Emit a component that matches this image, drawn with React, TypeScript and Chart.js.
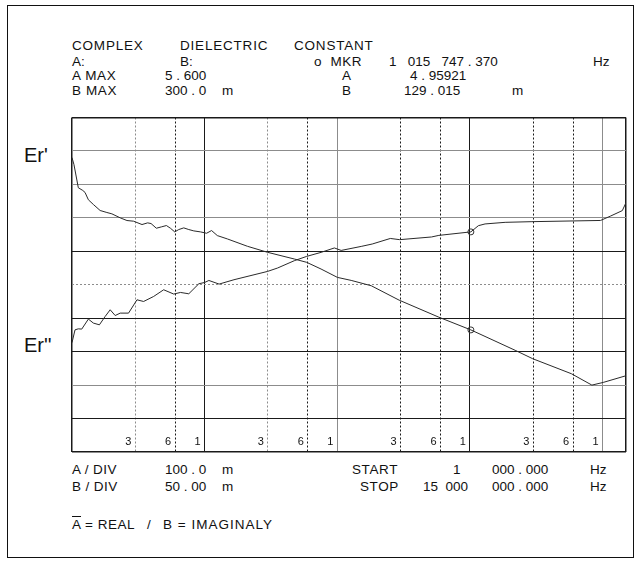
import React, { useEffect, useRef } from "react";
import { Chart, registerables } from "chart.js";
Chart.register(...registerables);

// ---- data ----
const freqA = [1000, 1035, 1116, 1205, 1254, 1329, 1449, 1629, 1831, 1998, 2309, 2595, 2911, 3371, 3715, 3943, 4324, 4718, 5147, 5520, 5950, 6377, 6958, 7593, 8284, 9311, 10337, 11277, 12459, 14831, 21017, 29782, 47340, 58770, 75410, 100200, 127200, 180300, 292200, 582700, 1015747, 2191000, 2967000, 5815000, 8299000, 10100000, 15000000];
const realA = [5.48, 5.459, 5.39, 5.382, 5.376, 5.354, 5.34, 5.322, 5.316, 5.312, 5.3, 5.292, 5.29, 5.28, 5.285, 5.283, 5.269, 5.273, 5.277, 5.269, 5.258, 5.265, 5.27, 5.265, 5.261, 5.258, 5.254, 5.262, 5.247, 5.237, 5.215, 5.197, 5.177, 5.167, 5.147, 5.122, 5.113, 5.097, 5.054, 5.003, 4.965, 4.904, 4.879, 4.834, 4.8, 4.808, 4.828];
const freqB = [1000, 1054, 1116, 1184, 1329, 1449, 1609, 1777, 1940, 2116, 2309, 2668, 3089, 3465, 4125, 4910, 5846, 6570, 7593, 9041, 10000, 10760, 12850, 16640, 29780, 35440, 47340, 58770, 75410, 95060, 106900, 151400, 183400, 251000, 295200, 512900, 582700, 1015747, 1157000, 1299000, 1841000, 2931000, 9641000, 11420000, 14070000, 15000000];
const imagB = [-36.5, -17.4, -15.9, -16.3, -1.3, -7.3, -9.9, 2.5, 12.6, 4.0, 7.6, 7.6, 27.5, 25.0, 32.5, 42.5, 36.1, 38.5, 36.5, 51.5, 53.4, 56.4, 51.0, 57.5, 69.9, 75.0, 85.9, 92.4, 98.4, 105.0, 101.3, 107.3, 110.9, 119.2, 117.4, 121.4, 123.8, 129.015, 138.3, 140.9, 143.3, 144.3, 146.1, 152.5, 160.8, 172.7];
const markerFreq = 1015747.37;
const markerA = 4.965;
const markerB = 129.015;
const freqStart = 1000;
const freqStop = 15000000;
const xGridValues = [1e3, 3e3, 6e3, 1e4, 3e4, 6e4, 1e5, 3e5, 6e5, 1e6, 3e6, 6e6, 1e7, 1.5e7];
const xLabelValues = [3e3, 6e3, 1e4, 3e4, 6e4, 1e5, 3e5, 6e5, 1e6, 3e6, 6e6, 1e7];
const xLabelTexts = ["3", "6", "1", "3", "6", "1", "3", "6", "1", "3", "6", "1"];
const aMax = 5.6;
const aDiv = 0.1;
const bMax = 300;
const bDiv = 50;
const divisions = 10;

const FONT = '"Liberation Sans", Arial, sans-serif';
const DARK = "#1a1a1a";
const GRAY = "#8c8c8c";

// styles of the horizontal lines from top (0) to bottom (10)
const hStyle = ["d", "g", "g", "g", "d", "dot", "d", "d", "g", "d", "d"];
// styles of vertical lines keyed by grid value
const vStyle: Record<number, string> = {
  1e3: "d2", 3e3: "gdash", 6e3: "ddash", 1e4: "d", 3e4: "gdash", 6e4: "ddash", 1e5: "g",
  3e5: "ddash", 6e5: "ddash", 1e6: "d", 3e6: "ddash", 6e6: "ddash", 1e7: "g", 1.5e7: "d2",
};

function T(props: { x: number; y: number; text: string; size?: number; ls?: number }) {
  const size = props.size || 13.5;
  return (
    <div
      style={{
        position: "absolute",
        left: props.x,
        top: props.y - size * 0.49,
        fontSize: size,
        lineHeight: `${size}px`,
        fontFamily: FONT,
        color: "#111",
        whiteSpace: "pre",
        letterSpacing: props.ls !== undefined ? props.ls : 0,
      }}
    >
      {props.text}
    </div>
  );
}

export default function App() {
  const ref = useRef<HTMLCanvasElement | null>(null);
  useEffect(() => {
    if (!ref.current) return;
    const labelPlugin = {
      id: "decadeLabels",
      afterDraw(chart: any) {
        const ctx = chart.ctx;
        const xs = chart.scales.x;
        const area = chart.chartArea;
        ctx.save();
        ctx.font = `11px ${FONT}`;
        ctx.fillStyle = "#111";
        ctx.textAlign = "right";
        ctx.textBaseline = "middle";
        xLabelValues.forEach((v, i) => {
          ctx.fillText(xLabelTexts[i], xs.getPixelForValue(v) - 4, area.bottom - 10);
        });
        ctx.restore();
      },
    };
    const chart = new Chart(ref.current, {
      type: "line",
      data: {
        datasets: [
          {
            label: "A",
            data: freqA.map((f, i) => ({ x: f, y: realA[i] })),
            yAxisID: "yA",
            borderColor: "#2a2a2a",
            borderWidth: 1,
            pointRadius: 0,
            tension: 0,
          },
          {
            label: "B",
            data: freqB.map((f, i) => ({ x: f, y: imagB[i] })),
            yAxisID: "yB",
            borderColor: "#2a2a2a",
            borderWidth: 1,
            pointRadius: 0,
            tension: 0,
          },
          {
            label: "MKR A",
            type: "scatter",
            data: [{ x: markerFreq, y: markerA }],
            yAxisID: "yA",
            borderColor: "#333",
            backgroundColor: "rgba(0,0,0,0)",
            borderWidth: 1,
            pointRadius: 3,
          },
          {
            label: "MKR B",
            type: "scatter",
            data: [{ x: markerFreq, y: markerB }],
            yAxisID: "yB",
            borderColor: "#333",
            backgroundColor: "rgba(0,0,0,0)",
            borderWidth: 1,
            pointRadius: 3,
          },
        ] as any,
      },
      options: {
        animation: false,
        responsive: false,
        devicePixelRatio: 1,
        layout: { padding: { left: 10, right: 10, top: 10.5, bottom: 10 } },
        plugins: { legend: { display: false }, tooltip: { enabled: false } },
        scales: {
          x: {
            type: "logarithmic",
            min: freqStart,
            max: freqStop,
            afterBuildTicks: (s: any) => {
              s.ticks = xGridValues.map((v) => ({ value: v }));
            },
            ticks: { display: false },
            grid: {
              drawTicks: false,
              color: (c: any) => {
                const st = vStyle[c.tick ? c.tick.value : 0] || "d";
                return st.startsWith("g") ? GRAY : DARK;
              },
              lineWidth: (c: any) => {
                const st = vStyle[c.tick ? c.tick.value : 0] || "d";
                return st === "d2" ? 1.5 : 1;
              },
            },
            border: {
              display: false,
              dash: (c: any) => {
                const st = vStyle[c.tick ? c.tick.value : 0] || "d";
                return st.endsWith("dash") ? [2, 2] : [];
              },
            },
          },
          yA: {
            type: "linear",
            position: "left",
            min: aMax - aDiv * divisions,
            max: aMax,
            afterBuildTicks: (s: any) => {
              const t = [];
              for (let i = 0; i <= divisions; i++) t.push({ value: aMax - aDiv * divisions + aDiv * i });
              s.ticks = t;
            },
            ticks: { display: false },
            grid: {
              drawTicks: false,
              color: (c: any) => {
                const st = hStyle[divisions - c.index] || "d";
                return st === "d" ? DARK : GRAY;
              },
              lineWidth: (c: any) => {
                const idx = divisions - c.index;
                return idx === 0 || idx === divisions ? 1.5 : 1;
              },
            },
            border: {
              display: false,
              dash: (c: any) => (hStyle[divisions - c.index] === "dot" ? [2, 2] : []),
            },
          },
          yB: {
            type: "linear",
            position: "right",
            display: false,
            min: bMax - bDiv * divisions,
            max: bMax,
          },
        },
      } as any,
      plugins: [labelPlugin],
    });
    return () => chart.destroy();
  }, []);

  return (
    <div style={{ position: "fixed", left: 0, top: 0, width: 642, height: 569, background: "#fff" }}>
      <div style={{ position: "absolute", left: 7, top: 5, width: 625, height: 551, border: "1px solid #111" }} />
      <T x={72} y={46} text="COMPLEX" ls={0.8} />
      <T x={180} y={46} text="DIELECTRIC" ls={0.8} />
      <T x={294} y={46} text="CONSTANT" ls={0.8} />
      <T x={72} y={62} text="A:" />
      <T x={180} y={62} text="B:" />
      <T x={314} y={62} text="o  MKR" ls={0.5} />
      <T x={389} y={62} text="1   015   747 . 370" />
      <T x={593} y={62} text="Hz" />
      <T x={72} y={76} text="A MAX" ls={0.6} />
      <T x={165} y={76} text="5 . 600" />
      <T x={342} y={76} text="A" />
      <T x={410} y={76} text="4 . 95921" />
      <T x={72} y={91} text="B MAX" ls={0.6} />
      <T x={165} y={91} text="300 . 0" />
      <T x={222} y={91} text="m" />
      <T x={342} y={91} text="B" />
      <T x={404} y={91} text="129 . 015" />
      <T x={512} y={91} text="m" />
      <T x={24} y={155} text="Er'" size={20} />
      <T x={24} y={345} text="Er''" size={20} />
      <T x={72} y={470} text="A / DIV" ls={0.4} />
      <T x={165} y={470} text="100 . 0" />
      <T x={222} y={470} text="m" />
      <T x={352} y={470} text="START" ls={0.6} />
      <T x={453} y={470} text="1" />
      <T x={492} y={470} text="000 . 000" />
      <T x={590} y={470} text="Hz" />
      <T x={72} y={487} text="B / DIV" ls={0.4} />
      <T x={165} y={487} text="50 . 00" />
      <T x={222} y={487} text="m" />
      <T x={360} y={487} text="STOP" ls={0.6} />
      <T x={423} y={487} text="15  000" />
      <T x={492} y={487} text="000 . 000" />
      <T x={590} y={487} text="Hz" />
      <div style={{ position: "absolute", left: 72, top: 516, width: 9, height: 1, background: "#111" }} />
      <T x={72} y={525} text="A = REAL" ls={0.5} />
      <T x={147} y={525} text="/" />
      <T x={163} y={525} text="B = IMAGINALY" ls={1} />
      <canvas
        ref={ref}
        width={574}
        height={355}
        style={{ position: "absolute", left: 62, top: 107, width: 574, height: 355 }}
      />
    </div>
  );
}
